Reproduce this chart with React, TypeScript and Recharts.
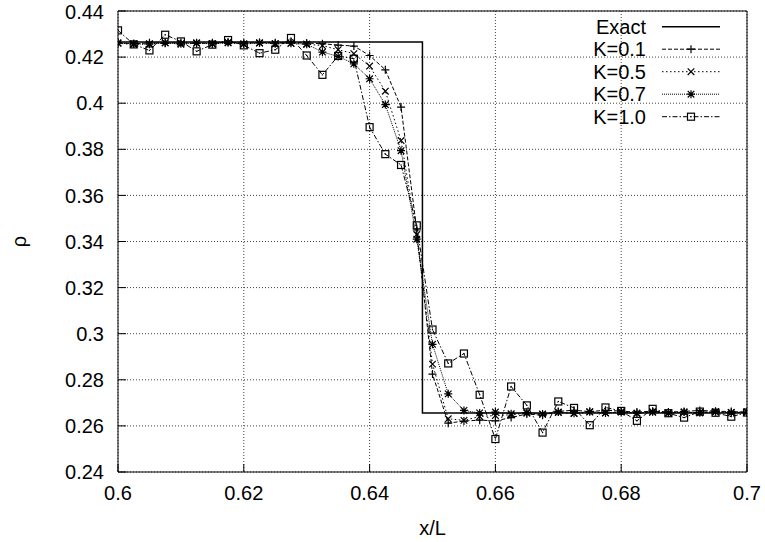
import React from 'react';
import { LineChart, Line, XAxis, YAxis, CartesianGrid, Legend } from 'recharts';

const FONT = '"Liberation Sans", Arial, Helvetica, sans-serif';
const INK = '#000';

// sample positions x/L
const xL = [
  0.6, 0.6025, 0.605, 0.6075, 0.61, 0.6125, 0.615, 0.6175, 0.62, 0.6225,
  0.625, 0.6275, 0.63, 0.6325, 0.635, 0.6375, 0.64, 0.6425, 0.645, 0.6475,
  0.65, 0.6525, 0.655, 0.6575, 0.66, 0.6625, 0.665, 0.6675, 0.67, 0.6725,
  0.675, 0.6775, 0.68, 0.6825, 0.685, 0.6875, 0.69, 0.6925, 0.695, 0.6975, 0.7,
];

const rhoK01 = [
  0.4262, 0.4258, 0.4262, 0.426, 0.4263, 0.4259, 0.4262, 0.4264, 0.4261, 0.4263,
  0.4262, 0.4264, 0.4261, 0.4258, 0.4252, 0.4248, 0.4207, 0.4145, 0.3983, 0.345,
  0.2825, 0.2612, 0.2621, 0.2625, 0.2622, 0.2636, 0.2652, 0.2646, 0.2663, 0.2668,
  0.2662, 0.2668, 0.2664, 0.266, 0.2664, 0.266, 0.2663, 0.2667, 0.2664, 0.2662, 0.266,
];

const rhoK05 = [
  0.426, 0.4255, 0.4258, 0.4262, 0.4256, 0.426, 0.4258, 0.4262, 0.4257, 0.4261,
  0.4258, 0.426, 0.4256, 0.425, 0.4232, 0.4215, 0.4161, 0.4052, 0.3838, 0.343,
  0.2868, 0.2631, 0.2624, 0.2641, 0.2645, 0.2648, 0.2655, 0.265, 0.2658, 0.2654,
  0.266, 0.2657, 0.2661, 0.2655, 0.2659, 0.2656, 0.266, 0.2657, 0.2661, 0.2658, 0.266,
];

const rhoK07 = [
  0.4262, 0.4258, 0.4256, 0.4262, 0.4258, 0.4262, 0.4257, 0.4263, 0.4257, 0.4262,
  0.4258, 0.426, 0.4256, 0.4222, 0.4203, 0.4171, 0.4106, 0.3994, 0.3794, 0.341,
  0.2954, 0.2739, 0.2667, 0.2656, 0.266, 0.2653, 0.2658, 0.2652, 0.266, 0.2655,
  0.2662, 0.2656, 0.266, 0.2655, 0.2661, 0.2656, 0.266, 0.2657, 0.2661, 0.2658, 0.266,
];

const rhoK10 = [
  0.4316, 0.4255, 0.4229, 0.4297, 0.4268, 0.4225, 0.4254, 0.4274, 0.4251, 0.4217,
  0.4232, 0.4283, 0.4207, 0.4123, 0.4205, 0.4193, 0.3896, 0.3779, 0.3732, 0.347,
  0.3018, 0.2871, 0.2914, 0.2735, 0.2543, 0.2771, 0.2689, 0.2571, 0.2706, 0.2678,
  0.2603, 0.268, 0.2665, 0.2622, 0.2674, 0.2655, 0.2636, 0.2662, 0.2657, 0.264, 0.2658,
];

// exact solution (step)
const exactX = [0.6, 0.6484, 0.6484, 0.7];
const exactRho = [0.4265, 0.4265, 0.2656, 0.2656];

const xTicks = [0.6, 0.62, 0.64, 0.66, 0.68, 0.7];
const yTicks = [0.24, 0.26, 0.28, 0.3, 0.32, 0.34, 0.36, 0.38, 0.4, 0.42, 0.44];

const table = xL.map((x, i) => ({ x, k01: rhoK01[i], k05: rhoK05[i], k07: rhoK07[i], k10: rhoK10[i] }));
const exactTable = exactX.map((x, i) => ({ x, rho: exactRho[i] }));

type Shape = 'plus' | 'cross' | 'star' | 'box';

const marker = (shape: Shape, cx: number, cy: number, key: string) => {
  const r = 4;
  const q = 3.3;
  const plus = `M${cx - r},${cy}H${cx + r}M${cx},${cy - r}V${cy + r}`;
  const cross = `M${cx - q},${cy - q}L${cx + q},${cy + q}M${cx - q},${cy + q}L${cx + q},${cy - q}`;
  if (shape === 'box') {
    return (
      <g key={key}>
        <rect x={cx - 3.5} y={cy - 3.5} width={7} height={7} fill="none" stroke={INK} strokeWidth={1.2} />
        <rect x={cx - 0.6} y={cy - 0.6} width={1.2} height={1.2} fill={INK} />
      </g>
    );
  }
  const d = shape === 'plus' ? plus : shape === 'cross' ? cross : plus + cross;
  return <path key={key} d={d} stroke={INK} strokeWidth={1.2} fill="none" />;
};

const dotOf = (shape: Shape, id: string) => (p: any) => {
  if (p.cx == null || p.cy == null) return <g key={`${id}-${p.index}`} />;
  return marker(shape, p.cx, p.cy, `${id}-${p.index}`);
};

const series = [
  { key: 'k01', name: 'K=0.1', dash: '4 2', shape: 'plus' as Shape },
  { key: 'k05', name: 'K=0.5', dash: '1.5 2.5', shape: 'cross' as Shape },
  { key: 'k07', name: 'K=0.7', dash: '1 1', shape: 'star' as Shape },
  { key: 'k10', name: 'K=1.0', dash: '5 2 1.5 2', shape: 'box' as Shape },
];

const renderLegend = () => (
  <svg width={180} height={125} style={{ overflow: 'visible' }}>
    <g>
      <text x={86} y={12.7} textAnchor="end" dominantBaseline="central" fontSize={20} fontFamily={FONT} fill={INK}>Exact</text>
      <line x1={102} x2={160} y1={12.7} y2={12.7} stroke={INK} strokeWidth={1.5} />
    </g>
    {series.map((s, i) => {
      const y = 12.7 + (i + 1) * 22.5;
      return (
        <g key={s.key}>
          <text x={86} y={y} textAnchor="end" dominantBaseline="central" fontSize={20} fontFamily={FONT} fill={INK}>{s.name}</text>
          <line x1={102} x2={160} y1={y} y2={y} stroke={INK} strokeWidth={1} strokeDasharray={s.dash} />
          {marker(s.shape, 131, y, `lg-${s.key}`)}
        </g>
      );
    })}
  </svg>
);

const RhoLabel = (props: any) => {
  const vb = props.viewBox || { x: 0, y: 11, width: 118, height: 461 };
  const x = vb.x + 19;
  const y = vb.y + vb.height / 2;
  return (
    <text x={x} y={y} transform={`rotate(-90 ${x} ${y})`} textAnchor="middle" dominantBaseline="central"
      fontSize={20} fontFamily={FONT} fill={INK}>ρ</text>
  );
};

const fmt = (v: number) => String(parseFloat(v.toFixed(2)));
const tickStyle = { fill: INK, fontSize: 20, fontFamily: FONT };

const App = () => {
  return (
    <div style={{ position: 'absolute', left: 0, top: 0 }}>
      <LineChart width={765} height={542} data={table} margin={{ top: 10, right: 17, bottom: 0, left: 0 }}>
        <CartesianGrid stroke="#444" strokeDasharray="1 2" horizontalValues={yTicks} verticalValues={xTicks} />
        <XAxis
          dataKey="x"
          type="number"
          domain={[0.6, 0.7]}
          ticks={xTicks}
          tickFormatter={fmt}
          allowDataOverflow
          height={70}
          tick={tickStyle}
          tickSize={-8}
          tickMargin={22}
          stroke={INK}
          label={{ value: 'x/L', position: 'insideBottom', offset: 7, fill: INK, fontSize: 20, fontFamily: FONT }}
        />
        <XAxis
          xAxisId="top"
          orientation="top"
          dataKey="x"
          type="number"
          domain={[0.6, 0.7]}
          ticks={xTicks}
          allowDataOverflow
          height={1}
          tick={false}
          tickSize={-8}
          stroke={INK}
        />
        <YAxis
          type="number"
          domain={[0.24, 0.44]}
          ticks={yTicks}
          tickFormatter={fmt}
          allowDataOverflow
          width={118}
          tick={tickStyle}
          tickSize={-8}
          tickMargin={22}
          stroke={INK}
          label={<RhoLabel />}
        />
        <YAxis
          yAxisId="right"
          orientation="right"
          type="number"
          domain={[0.24, 0.44]}
          ticks={yTicks}
          allowDataOverflow
          width={1}
          tick={false}
          tickSize={-8}
          stroke={INK}
        />
        <Legend
          content={renderLegend}
          layout="vertical"
          align="center"
          verticalAlign="middle"
          wrapperStyle={{ left: 560, top: 14, width: 180, height: 125 }}
        />
        <Line
          data={exactTable}
          dataKey="rho"
          name="Exact"
          type="linear"
          stroke={INK}
          strokeWidth={1.5}
          dot={false}
          activeDot={false}
          isAnimationActive={false}
        />
        {series.map((s) => (
          <Line
            key={s.key}
            dataKey={s.key}
            name={s.name}
            type="linear"
            stroke={INK}
            strokeWidth={1}
            strokeDasharray={s.dash}
            dot={dotOf(s.shape, s.key)}
            activeDot={false}
            isAnimationActive={false}
          />
        ))}
      </LineChart>
    </div>
  );
};

export default App;
